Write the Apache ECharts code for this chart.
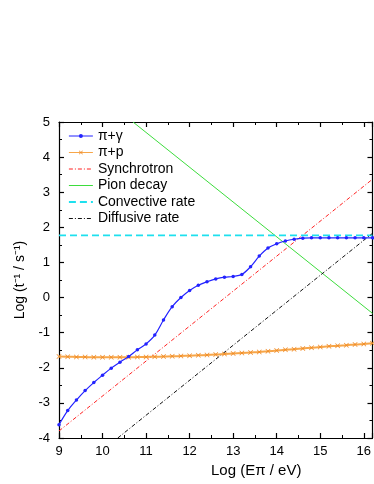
<!DOCTYPE html>
<html>
<head>
<meta charset="utf-8">
<script src="https://cdn.jsdelivr.net/npm/echarts@6/dist/echarts.min.js"></script>
<style>
  html, body { margin: 0; padding: 0; background: #fff; }
  #chart { width: 374px; height: 484px; }
</style>
</head>
<body>
<div id="chart"></div>
<script>
// energy grid for the two computed curves (Log E, step 0.2)
var logE = [9.0, 9.2, 9.4, 9.6, 9.8, 10.0, 10.2, 10.4, 10.6, 10.8, 11.0, 11.2, 11.4, 11.6, 11.8,
  12.0, 12.2, 12.4, 12.6, 12.8, 13.0, 13.2, 13.4, 13.6, 13.8, 14.0, 14.2, 14.4, 14.6, 14.8,
  15.0, 15.2, 15.4, 15.6, 15.8, 16.0, 16.2];
var piGamma = [-3.62, -3.22, -2.92, -2.65, -2.42, -2.21, -2.01, -1.84, -1.68, -1.49, -1.32, -1.07, -0.64, -0.26, 0.0,
  0.2, 0.35, 0.45, 0.53, 0.58, 0.6, 0.66, 0.88, 1.18, 1.41, 1.53, 1.61, 1.66, 1.69, 1.7,
  1.7, 1.7, 1.7, 1.7, 1.7, 1.7, 1.7];
var piP = [-1.68, -1.685, -1.69, -1.695, -1.7, -1.7, -1.7, -1.7, -1.7, -1.695, -1.69, -1.685, -1.68, -1.675, -1.665,
  -1.655, -1.645, -1.635, -1.625, -1.61, -1.595, -1.58, -1.565, -1.55, -1.53, -1.51, -1.49, -1.47, -1.45, -1.43,
  -1.41, -1.39, -1.375, -1.355, -1.34, -1.32, -1.30];
// straight-line rates, end points
var synchX = [9.0, 16.2];
var synchY = [-3.8, 3.37];
var pionX = [10.7, 16.2];
var pionY = [5.0, -0.45];
var convX = [9.0, 16.2];
var convY = [1.77, 1.77];
var diffX = [10.35, 16.2];
var diffY = [-4.0, 1.83];

var names = ['π+γ', 'π+p', 'Synchrotron', 'Pion decay', 'Convective rate', 'Diffusive rate'];

function pairs(xs, ys) {
  var out = [];
  for (var i = 0; i < xs.length; i++) out.push([xs[i], ys[i]]);
  return out;
}

var font = 'Liberation Sans, Arial, sans-serif';
var crossPath = 'path://M0,1L1,0L5,4L9,0L10,1L6,5L10,9L9,10L5,6L1,10L0,9L4,5Z';

var chart = echarts.init(document.getElementById('chart'), null, { renderer: 'canvas' });

function frameAxis(extra) {
  return Object.assign({
    axisLine: { show: true, onZero: false, lineStyle: { color: '#000', width: 1.2 } },
    axisTick: { show: true, inside: true, length: 5, lineStyle: { color: '#000', width: 1.2 } },
    minorTick: { show: true, splitNumber: 2, length: 3, lineStyle: { color: '#000', width: 1 } },
    splitLine: { show: false }
  }, extra);
}

// legend: plain lines hide the symbol, marker series keep a small one
var legendData = names.map(function (n, i) {
  var it = i < 2 ? { name: n } : { name: n, itemStyle: { opacity: 0 } };
  if (i == 4) it.lineStyle = { width: 1.8 };
  return it;
});

var option = {
  animation: false,
  textStyle: { fontFamily: font },
  grid: { left: 59, right: 1, top: 122, bottom: 46 },
  legend: {
    orient: 'vertical',
    left: 68,
    top: 129,
    padding: 0,
    itemWidth: 24,
    itemHeight: 5,
    itemGap: 2.5,
    lineStyle: { width: 1 },
    textStyle: { fontSize: 14, color: '#000', fontFamily: font },
    data: legendData
  },
  xAxis: [
    frameAxis({
      type: 'value', min: 9, max: 16.2, interval: 1, position: 'bottom',
      axisLabel: {
        color: '#000', fontSize: 13, margin: 7, showMaxLabel: false,
        formatter: function (v) { return Number.isInteger(v) ? String(v) : ''; }
      }
    }),
    frameAxis({
      type: 'value', min: 9, max: 16.2, interval: 1, position: 'top',
      axisLabel: { show: false }
    })
  ],
  yAxis: [
    frameAxis({
      type: 'value', min: -4, max: 5, interval: 1, position: 'left',
      name: 'Log (t⁻¹ / s⁻¹)', nameLocation: 'middle', nameGap: 29,
      nameTextStyle: { color: '#000', fontSize: 14, fontFamily: font },
      axisLabel: { color: '#000', fontSize: 13, margin: 9 }
    }),
    frameAxis({
      type: 'value', min: -4, max: 5, interval: 1, position: 'right',
      axisLabel: { show: false }
    })
  ],
  graphic: [{
    type: 'text',
    left: 211,
    top: 463,
    style: { text: 'Log (Eπ / eV)', font: '15px ' + font, fill: '#000' }
  }],
  series: [
    {
      name: names[0], type: 'line', smooth: 0.35,
      data: pairs(logE, piGamma),
      symbol: 'circle', symbolSize: 3.5,
      itemStyle: { color: '#2323ff' },
      lineStyle: { color: '#2323ff', width: 1.2 },
      z: 6
    },
    {
      name: names[1], type: 'line', smooth: true,
      data: pairs(logE, piP),
      symbol: crossPath, symbolSize: 5,
      itemStyle: { color: '#f08a24' },
      lineStyle: { color: '#f7a649', width: 2 },
      z: 5
    },
    {
      name: names[2], type: 'line', symbol: 'none',
      data: pairs(synchX, synchY),
      itemStyle: { color: '#ff2020' },
      lineStyle: { color: '#ff2020', width: 1, type: [4, 2, 1, 2] }
    },
    {
      name: names[3], type: 'line', symbol: 'none',
      data: pairs(pionX, pionY),
      itemStyle: { color: '#3ddc3d' },
      lineStyle: { color: '#3ddc3d', width: 1 }
    },
    {
      name: names[4], type: 'line', symbol: 'none',
      data: pairs(convX, convY),
      itemStyle: { color: '#1ee0ee' },
      lineStyle: { color: '#1ee0ee', width: 1.6, type: [7, 4] }
    },
    {
      name: names[5], type: 'line', symbol: 'none',
      data: pairs(diffX, diffY),
      itemStyle: { color: '#111' },
      lineStyle: { color: '#111', width: 1, type: [4, 2, 1, 2] }
    }
  ]
};

chart.setOption(option);
</script>
</body>
</html>
